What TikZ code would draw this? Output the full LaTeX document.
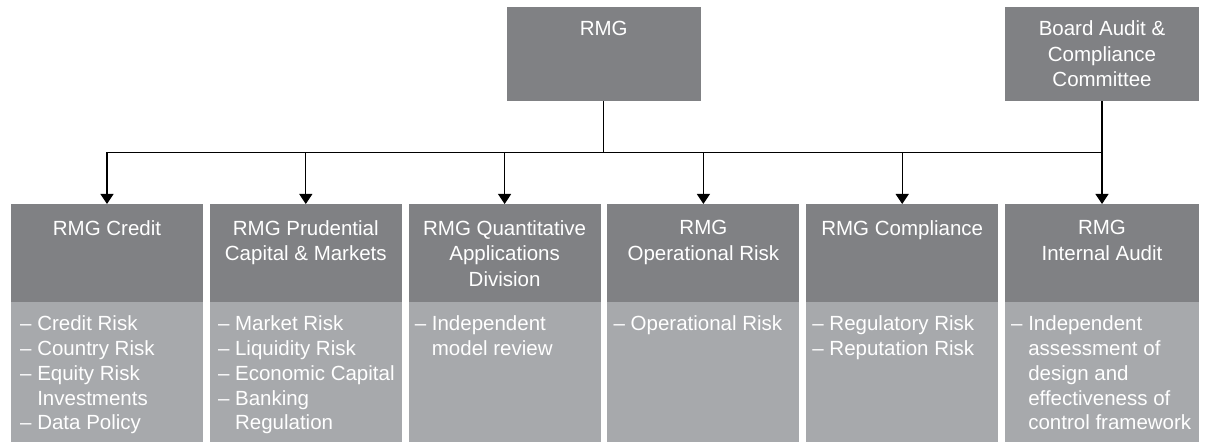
\documentclass[tikz,border=0pt]{standalone}
\usepackage{fontspec}
\setmainfont{Liberation Sans}
\usetikzlibrary{arrows.meta}
\definecolor{dk}{RGB}{128,129,132}
\definecolor{lt}{RGB}{167,169,172}
\newcommand{\hang}{\hphantom{– }}
\tikzset{
  box/.style={draw=none, inner sep=0pt, outer sep=0pt, anchor=north west, minimum width=192pt},
  hdr/.style={box, fill=dk, minimum height=98pt},
  bdy/.style={box, fill=lt, minimum height=140pt},
  topbox/.style={box, fill=dk, minimum width=194pt, minimum height=94.5pt},
  htxt/.style={anchor=north, inner sep=0pt, text=white, align=center, font=\fontsize{20.5}{25.5}\selectfont},
  btxt/.style={anchor=north west, inner sep=0pt, text=white, align=left, font=\fontsize{20.5}{24.7}\selectfont},
  conn/.style={line width=1.1pt, black},
  arr/.style={conn, -{Triangle[width=13pt,length=10pt]}},
}
\begin{document}
\begin{tikzpicture}[x=1pt, y=-1pt]
\useasboundingbox (0,0) rectangle (1206,443);
% top boxes
\node[topbox] (rmg) at (506.7,6.7) {};
\node[topbox] (board) at (1005,6.7) {};
\node[htxt, yshift=-14.2pt] (rmgt) at (rmg.north) {RMG};
\node[htxt, yshift=-14.2pt] (boardt) at (board.north) {Board Audit \&\\Compliance\\Committee};
% lower boxes
\node[hdr] (h1) at (11,204) {};
\node[hdr] (h2) at (209.8,204) {};
\node[hdr] (h3) at (408.6,204) {};
\node[hdr] (h4) at (607.4,204) {};
\node[hdr] (h5) at (806.2,204) {};
\node[hdr, minimum width=194pt] (h6) at (1005,204) {};
\node[bdy] (b1) at (h1.south west) {};
\node[bdy] (b2) at (h2.south west) {};
\node[bdy] (b3) at (h3.south west) {};
\node[bdy] (b4) at (h4.south west) {};
\node[bdy] (b5) at (h5.south west) {};
\node[bdy, minimum width=194pt] (b6) at (h6.south west) {};
% header texts
\node[htxt, yshift=-16.2pt] (h1t) at (h1.north) {RMG Credit};
\node[htxt, yshift=-16.2pt] (h2t) at (h2.north) {RMG Prudential\\Capital \& Markets};
\node[htxt, yshift=-16.2pt] (h3t) at (h3.north) {RMG Quantitative\\Applications\\Division};
\node[htxt, yshift=-16.2pt] (h4t) at (h4.north) {RMG\\Operational Risk};
\node[htxt, yshift=-16.2pt] (h5t) at (h5.north) {RMG Compliance};
\node[htxt, yshift=-16.2pt] (h6t) at (h6.north) {RMG\\Internal Audit};
% body texts
\node[btxt, xshift=9pt, yshift=-13.9pt] (b1t) at (b1.north west) {– Credit Risk\\– Country Risk\\– Equity Risk\\\hang Investments\\– Data Policy};
\node[btxt, xshift=8pt, yshift=-13.9pt] (b2t) at (b2.north west) {– Market Risk\\– Liquidity Risk\\– Economic Capital\\– Banking\\\hang Regulation};
\node[btxt, xshift=6pt, yshift=-13.9pt] (b3t) at (b3.north west) {– Independent\\\hang model review};
\node[btxt, xshift=6pt, yshift=-13.9pt] (b4t) at (b4.north west) {– Operational Risk};
\node[btxt, xshift=6pt, yshift=-13.9pt] (b5t) at (b5.north west) {– Regulatory Risk\\– Reputation Risk};
\node[btxt, xshift=6pt, yshift=-13.9pt] (b6t) at (b6.north west) {– Independent\\\hang assessment of\\\hang design and\\\hang effectiveness of\\\hang control framework};
% connectors
\coordinate (j) at (603.7,152.5);
\draw[conn] (rmg.south) -- (j);
\draw[conn] (h1.north |- j) -- (h6.north |- j);
\draw[arr] (h1.north |- j) -- (h1.north);
\draw[arr] (h2.north |- j) -- (h2.north);
\draw[arr] (h3.north |- j) -- (h3.north);
\draw[arr] (h4.north |- j) -- (h4.north);
\draw[arr] (h5.north |- j) -- (h5.north);
\draw[arr] (h6.north |- board.south) -- (h6.north);
\end{tikzpicture}
\end{document}
